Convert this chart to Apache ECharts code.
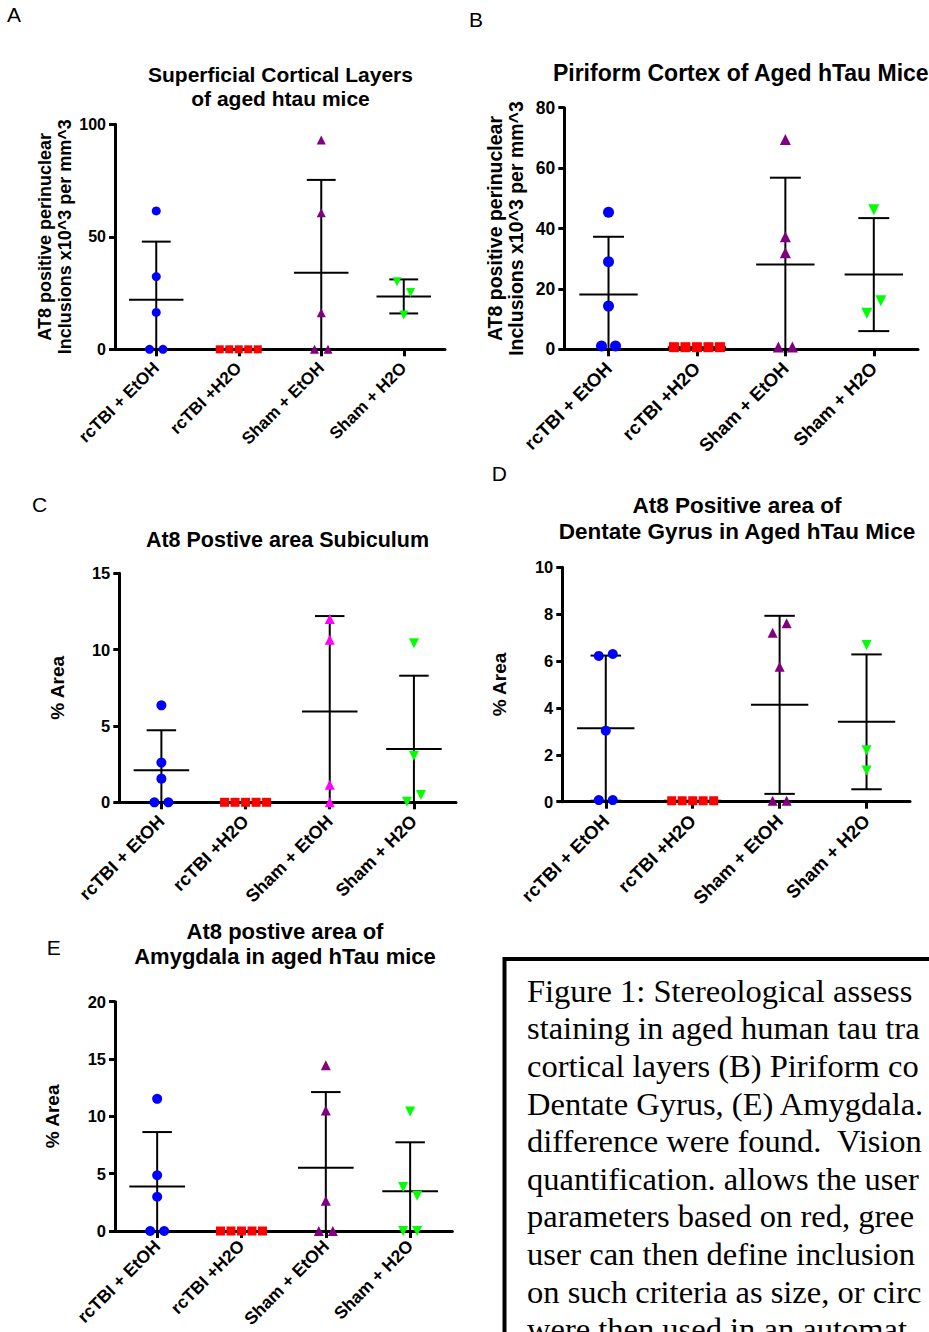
<!DOCTYPE html>
<html>
<head>
<meta charset="utf-8">
<script src="https://cdn.jsdelivr.net/npm/echarts@6/dist/echarts.min.js"></script>
<style>
html,body{margin:0;padding:0;background:#ffffff;}
#chart{width:929px;height:1332px;}
</style>
</head>
<body>
<div id="chart"></div>
<script>
// ---------------- DATA ----------------
const categories = ['rcTBI + EtOH', 'rcTBI +H2O', 'Sham + EtOH', 'Sham + H2O'];

// Panel A: Superficial cortical layers (x10^3 per mm^3)
const A_tbiEtoh  = [61.5, 32.3, 16.4, 0, 0];
const A_tbiH2o   = [0, 0, 0, 0, 0];
const A_shamEtoh = [93.0, 60.7, 16.3, 0, 0];
const A_shamH2o  = [30.0, 25.3, 15.2];

// Panel B: Piriform cortex (x10^3 per mm^3)
const B_tbiEtoh  = [45.4, 29.0, 14.3, 1.1, 1.1];
const B_tbiH2o   = [0.7, 0.7, 0.7, 0.7, 0.7];
const B_shamEtoh = [69.5, 37.3, 32.0, 0.8, 0.8];
const B_shamH2o  = [46.2, 11.9, 16.1];

// Panel C: Subiculum (% area)
const C_tbiEtoh  = [6.35, 2.6, 1.55, 0, 0];
const C_tbiH2o   = [0, 0, 0, 0, 0];
const C_shamEtoh = [12.0, 10.65, 1.15, 0];
const C_shamH2o  = [10.41, 3.05, 0.04, 0.48];

// Panel D: Dentate gyrus (% area)
const D_tbiEtoh  = [6.22, 6.30, 3.03, 0.07, 0.07];
const D_tbiH2o   = [0.04, 0.04, 0.04, 0.04, 0.04];
const D_shamEtoh = [7.21, 7.61, 5.76, 0.04, 0.04];
const D_shamH2o  = [6.69, 2.2, 1.33];

// Panel E: Amygdala (% area)
const E_tbiEtoh  = [11.53, 4.86, 2.99, 0, 0];
const E_tbiH2o   = [0, 0, 0, 0, 0];
const E_shamEtoh = [14.45, 10.52, 2.64, 0, 0];
const E_shamH2o  = [10.43, 3.84, 3.08, 0, 0];

const panelLetters = ['A', 'B', 'C', 'D', 'E'];
const panelTitles = [
  ['Superficial Cortical Layers', 'of aged htau mice'],
  ['Piriform Cortex of Aged hTau Mice'],
  ['At8 Postive area Subiculum'],
  ['At8 Positive area of', 'Dentate Gyrus in Aged hTau Mice'],
  ['At8 postive area of', 'Amygdala in aged hTau mice']
];
const yNames = [
  'AT8 positive perinuclear\nInclusions x10^3 per mm^3',
  'AT8 positive perinuclear\nInclusions x10^3 per mm^3',
  '% Area', '% Area', '% Area'
];
const yMax  = [100, 80, 15, 10, 20];
const yStep = [50, 20, 5, 2, 5];

// caption text as visible in the (cropped) figure
const captionLines = [
  'Figure 1: Stereological assess',
  'staining in aged human tau tra',
  'cortical layers (B) Piriform co',
  'Dentate Gyrus, (E) Amygdala.',
  'difference were found.\u00a0 Vision',
  'quantification. allows the user',
  'parameters based on red, gree',
  'user can then define inclusion',
  'on such criteria as size, or circ',
  'were then used in an automat'
];

const panelData = [
  [A_tbiEtoh, A_tbiH2o, A_shamEtoh, A_shamH2o],
  [B_tbiEtoh, B_tbiH2o, B_shamEtoh, B_shamH2o],
  [C_tbiEtoh, C_tbiH2o, C_shamEtoh, C_shamH2o],
  [D_tbiEtoh, D_tbiH2o, D_shamEtoh, D_shamH2o],
  [E_tbiEtoh, E_tbiH2o, E_shamEtoh, E_shamH2o]
];

// ---------------- LAYOUT / STYLE ----------------
const FONT = "'Liberation Sans', Arial, sans-serif";
const layout = [
  {grid:{left:115,  top:124.3, width:330,   height:225},   tick:16,   xl:17,   xm:16, yn:18,   ynLH:20, nameGap:38, sym:9,
   letter:[7,14], title:[280.5,[74,98.5]], tfs:21},
  {grid:{left:564.3,top:107.7, width:353.7, height:241.6}, tick:17.5, xl:18.5, xm:16, yn:19.5, ynLH:21, nameGap:38, sym:11,
   letter:[469,19.5], title:[740.8,[73.3]], tfs:23},
  {grid:{left:119.3,top:573.3, width:336.7, height:229},   tick:16.5, xl:18,   xm:16, yn:19,   ynLH:21, nameGap:51, sym:10,
   letter:[32,504.5], title:[287.5,[539.5]], tfs:21.5},
  {grid:{left:562.3,top:567.3, width:347.7, height:234.4}, tick:16.5, xl:18.5, xm:16, yn:19,   ynLH:21, nameGap:52, sym:10,
   letter:[491.7,473.7], title:[737,[505.3,531.3]], tfs:22.5},
  {grid:{left:115,  top:1001.7,width:337.3, height:229.3}, tick:16.5, xl:17.5, xm:12, yn:19,   ynLH:21, nameGap:52, sym:10,
   letter:[46.7,947], title:[285,[931,956.7]], tfs:22}
];
const groupSymbols = ['circle', 'rect', 'triangle', 'triangle'];
const groupRotate  = [0, 0, 0, 180];
const groupColorsDefault = ['#0000ff', '#ff0000', '#800080', '#00ff00'];
const groupColorsC       = ['#0000ff', '#ff0000', '#ff00ff', '#00ff00'];

// ---------------- HELPERS ----------------
function meanSd(v) {
  const n = v.length;
  const m = v.reduce((a, b) => a + b, 0) / n;
  const s = n > 1 ? Math.sqrt(v.reduce((a, b) => a + (b - m) * (b - m), 0) / (n - 1)) : 0;
  return [m, s];
}
// horizontal spread of overlapping points (like Prism's scatter)
function spreadOffsets(vals, pxPerUnit, sym) {
  const idx = vals.map((v, i) => i).sort((a, b) => vals[a] - vals[b]);
  const clusters = [];
  let cur = [idx[0]];
  for (let k = 1; k < idx.length; k++) {
    const gap = (vals[idx[k]] - vals[idx[k - 1]]) * pxPerUnit;
    if (gap < 14) cur.push(idx[k]); else { clusters.push(cur); cur = [idx[k]]; }
  }
  clusters.push(cur);
  const off = new Array(vals.length).fill(0);
  clusters.forEach(c => {
    c.sort((a, b) => a - b);
    const n = c.length;
    const sp = n === 2 ? Math.min(14, sym + 4.5) : sym + 0.5;
    c.forEach((ii, j) => { off[ii] = (j - (n - 1) / 2) * sp; });
  });
  return off;
}

// ---------------- BUILD OPTION ----------------
const grids = [], xAxes = [], yAxes = [], series = [], graphics = [];

panelData.forEach((groups, p) => {
  const L = layout[p];
  grids.push(Object.assign({containLabel:false, outerBoundsMode:'none'}, L.grid));
  xAxes.push({
    type:'category', gridIndex:p, data:categories, boundaryGap:true,
    axisLine:{show:true, onZero:false, lineStyle:{color:'#000', width:3}},
    axisTick:{show:true, alignWithLabel:true, length:7, lineStyle:{color:'#000', width:3}},
    axisLabel:{show:true, interval:0, rotate:45, margin:L.xm, color:'#000', fontWeight:'bold', fontSize:L.xl, fontFamily:FONT},
    splitLine:{show:false}
  });
  yAxes.push({
    type:'value', gridIndex:p, min:0, max:yMax[p], interval:yStep[p],
    axisLine:{show:true, lineStyle:{color:'#000', width:3}},
    axisTick:{show:true, length:6, lineStyle:{color:'#000', width:3}},
    axisLabel:{color:'#000', fontWeight:'bold', fontSize:L.tick, margin:9, fontFamily:FONT},
    splitLine:{show:false},
    name:yNames[p], nameLocation:'middle', nameGap:L.nameGap, nameRotate:90,
    nameTextStyle:{color:'#000', fontWeight:'bold', fontSize:L.yn, lineHeight:L.ynLH, fontFamily:FONT}
  });
  const colors = p === 2 ? groupColorsC : groupColorsDefault;
  const pxPerUnit = L.grid.height / yMax[p];
  const stats = [];
  groups.forEach((vals, g) => {
    const off = spreadOffsets(vals, pxPerUnit, L.sym);
    const [m, s] = meanSd(vals);
    stats.push([g, m, s]);
    series.push({
      type:'scatter', xAxisIndex:p, yAxisIndex:p, silent:true, z:4, clip:false,
      symbol:groupSymbols[g], symbolRotate:groupRotate[g],
      symbolSize:(g === 1 ? L.sym - 1 : L.sym),
      itemStyle:{color:colors[g], opacity:1},
      data: vals.map((v, k) => ({value:[g, v], symbolOffset:[off[k], 0]}))
    });
  });
  series.push({
    type:'custom', xAxisIndex:p, yAxisIndex:p, silent:true, z:3,
    data: stats,
    renderItem: function (params, api) {
      const g = api.value(0), m = api.value(1), s = api.value(2);
      const band = api.size([1, 0])[0];
      const capH = band * 0.175, meanH = band * 0.33;
      const pm = api.coord([g, m]);
      const hi = api.coord([g, m + s]);
      const lo = api.coord([g, Math.max(m - s, 0)]);
      const st = {stroke:'#000', lineWidth:2};
      const ch = [
        {type:'line', shape:{x1:pm[0] - meanH, y1:pm[1], x2:pm[0] + meanH, y2:pm[1]}, style:st}
      ];
      if (s > 0) {
        ch.push({type:'line', shape:{x1:hi[0], y1:hi[1], x2:lo[0], y2:lo[1]}, style:st});
        ch.push({type:'line', shape:{x1:hi[0] - capH, y1:hi[1], x2:hi[0] + capH, y2:hi[1]}, style:st});
        if (m - s > 0) ch.push({type:'line', shape:{x1:lo[0] - capH, y1:lo[1], x2:lo[0] + capH, y2:lo[1]}, style:st});
      }
      return {type:'group', children:ch};
    }
  });
  // panel letter
  graphics.push({type:'text', left:L.letter[0], top:L.letter[1] - 10.5, style:{
    text:panelLetters[p], fill:'#000', font:'21px ' + FONT}});
  // title lines
  panelTitles[p].forEach((t, i) => {
    graphics.push({type:'text', x:L.title[0], y:L.title[1][i], style:{
      text:t, fill:'#000', font:'bold ' + L.tfs + 'px ' + FONT, textAlign:'center', textVerticalAlign:'middle'}});
  });
});

// caption box
graphics.push({type:'rect', shape:{x:504.5, y:959, width:480, height:420},
  style:{fill:'none', stroke:'#000', lineWidth:4}});
captionLines.forEach((t, i) => {
  graphics.push({type:'text', x:527, y:990.8 + 37.6 * i, style:{
    text:t, fill:'#000', font:"32.5px 'Liberation Serif', 'Times New Roman', serif",
    textAlign:'left', textVerticalAlign:'middle'}});
});

const chart = echarts.init(document.getElementById('chart'), null, {renderer:'svg', width:929, height:1332});
chart.setOption({
  animation:false,
  backgroundColor:'#ffffff',
  grid:grids, xAxis:xAxes, yAxis:yAxes, series:series,
  graphic:graphics
});
</script>
</body>
</html>
